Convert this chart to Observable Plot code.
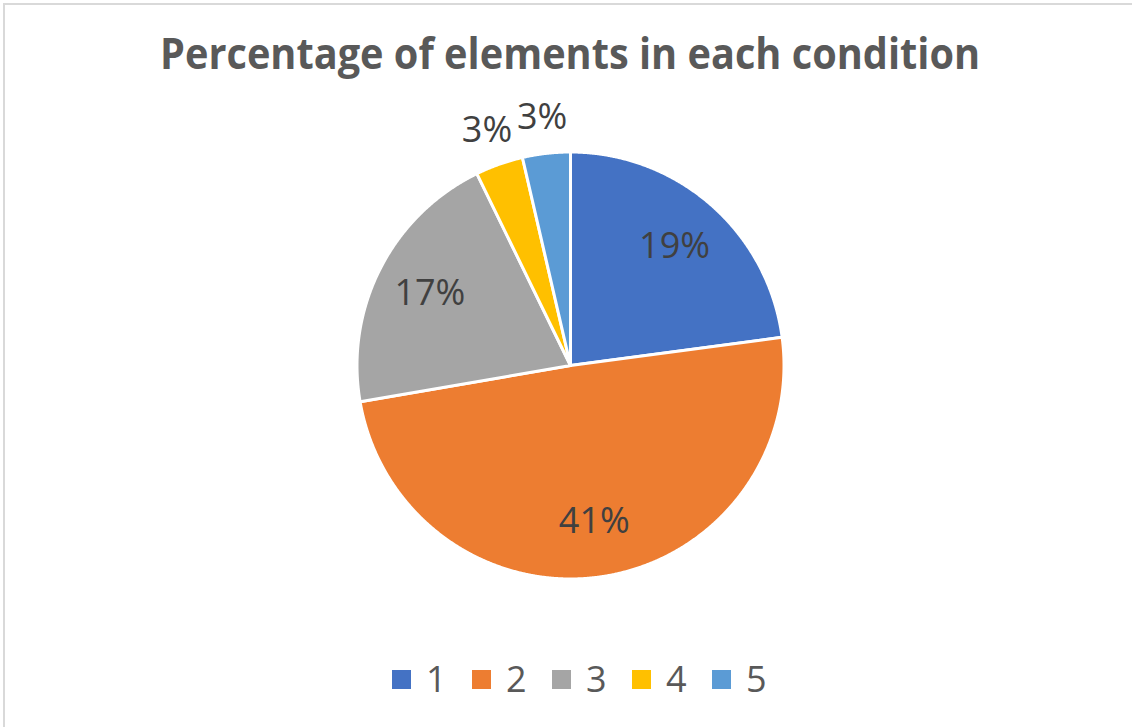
<!DOCTYPE html>
<html>
<head>
<meta charset="utf-8">
<script src="https://cdn.jsdelivr.net/npm/d3@7"></script>
<script src="https://cdn.jsdelivr.net/npm/@observablehq/plot@0.6"></script>
<style>
  html, body { margin: 0; padding: 0; background: #fff; }
  #chart { position: relative; width: 1132px; height: 727px; overflow: hidden; font-family: "Open Sans", sans-serif; }
  #frame { position: absolute; left: 3px; top: 3px; width: 1160px; height: 760px; border: 2px solid #d9d9d9; box-sizing: border-box; }
  #title { position: absolute; left: 0; top: 31px; width: 1140px; text-align: center; font-weight: 700; font-size: 43px; line-height: 43px; color: #595959; white-space: nowrap; }
  #title span { display: inline-block; transform-origin: 50% 50%; }
  #plot { position: absolute; left: 0; top: 100px; }
  #legend { position: absolute; left: 392px; top: 661px; display: flex; }
  .item { width: 80px; flex: none; display: flex; align-items: center; height: 36px; }
  .sw { width: 19px; height: 19px; flex: none; margin-right: 15px; }
  .lab { font-size: 36px; line-height: 36px; color: #595959; }
</style>
</head>
<body>
<div id="chart">
  <div id="frame"></div>
  <div id="title"><span id="titleText">Percentage of elements in each condition</span></div>
  <div id="plot"></div>
  <div id="legend"></div>
</div>
<script>
const categories = ["1", "2", "3", "4", "5"];
const values = [0.19, 0.41, 0.17, 0.03, 0.03];
const colors = ["#4472C4", "#ED7D31", "#A5A5A5", "#FFC000", "#5B9BD5"];

const W = 1132, H = 540, R = 213.5, cx = 570, cy = 265;

const arcs = d3.pie().sort(null)(values);
const total = d3.sum(values);

const slicePoints = [];
const labels = [];
arcs.forEach((a, i) => {
  const cat = categories[i];
  slicePoints.push({cat, x: 0, y: 0});
  const n = Math.max(4, Math.ceil((a.endAngle - a.startAngle) / 0.004));
  for (let k = 0; k <= n; k++) {
    const t = a.startAngle + (a.endAngle - a.startAngle) * k / n;
    slicePoints.push({cat, x: Math.sin(t), y: Math.cos(t)});
  }
  slicePoints.push({cat, x: 0, y: 0});
  const mid = (a.startAngle + a.endAngle) / 2;
  const share = values[i] / total;
  const rr = share < 0.08 ? 1.17 : 0.74;
  labels.push({cat, x: rr * Math.sin(mid), y: rr * Math.cos(mid), text: d3.format(".0%")(values[i])});
});

const chart = Plot.plot({
  width: W,
  height: H,
  margin: 0,
  x: {domain: [-cx / R, (W - cx) / R], axis: null},
  y: {domain: [-(H - cy) / R, cy / R], axis: null},
  color: {domain: categories, range: colors},
  style: {background: "transparent", overflow: "visible"},
  marks: [
    Plot.line(slicePoints, {x: "x", y: "y", z: "cat", fill: "cat", stroke: "white", strokeWidth: 3, strokeLinejoin: "round"}),
    Plot.text(labels, {x: "x", y: "y", text: "text", fontSize: 36, fontFamily: "Open Sans", fill: "#404040"})
  ]
});
document.getElementById("plot").appendChild(chart);

const legend = d3.select("#legend");
categories.forEach((c, i) => {
  const item = legend.append("div").attr("class", "item");
  item.append("div").attr("class", "sw").style("background", colors[i]);
  item.append("div").attr("class", "lab").text(c);
});

const tt = document.getElementById("titleText");
const w = tt.getBoundingClientRect().width;
tt.style.transform = `scaleX(${820 / w})`;
</script>
</body>
</html>
